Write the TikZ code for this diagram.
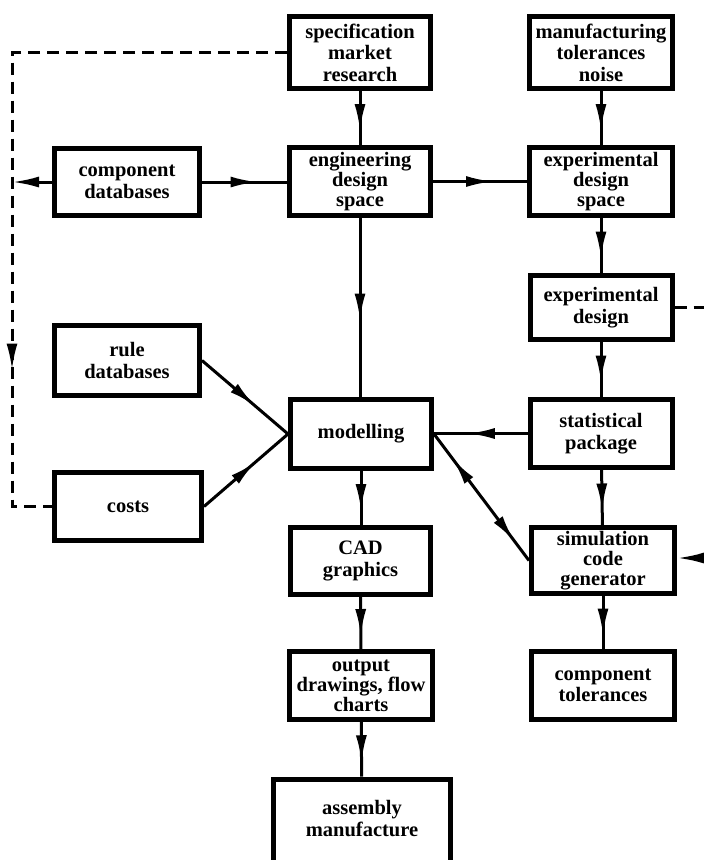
\documentclass[tikz,border=0pt]{standalone}
\usepackage{fontspec}
\setmainfont{Liberation Serif}
\usetikzlibrary{arrows.meta,decorations.markings}
\begin{document}
\begin{tikzpicture}[x=1pt,y=-1pt,
  box/.style={draw, line width=5pt, align=center, inner sep=0pt,
    font=\fontsize{20.5}{21.5}\selectfont\bfseries},
  tight/.style={font=\fontsize{20.5}{20}\selectfont\bfseries},
  conn/.style={line width=3pt},
  dashline/.style={line width=3pt, dash pattern=on 12pt off 7pt},
  midarrow/.style={conn, postaction={decorate}, decoration={markings,
    mark=at position 0.5 with {\pgftransformxshift{13pt}\arrow{Latex[length=27pt,width=11pt]}}}},
  endarrow/.style={conn, -{Latex[length=27pt,width=11pt]}},
]
\useasboundingbox (0,0) rectangle (704,860);
\fill[white] (0,0) rectangle (704,860);
\clip (0,0) rectangle (704,860);

\node[box, minimum width=141pt, minimum height=72pt] (spec) at (360,52.5) {specification\\market\\research};
\node[box, minimum width=143pt, minimum height=72pt] (mfg) at (601,52.5) {manufacturing\\tolerances\\noise};
\node[box, minimum width=145pt, minimum height=67pt] (comp) at (127,182) {component\\databases};
\node[box, tight, minimum width=141pt, minimum height=68pt] (eng) at (360,181.5) {engineering\\design\\space};
\node[box, tight, minimum width=143pt, minimum height=68pt] (expds) at (601,181.5) {experimental\\design\\space};
\node[box, minimum width=142pt, minimum height=64pt] (expd) at (601,307.5) {experimental\\design};
\node[box, minimum width=145pt, minimum height=70pt] (rule) at (127,360.5) {rule\\databases};
\node[box, minimum width=141pt, minimum height=69pt] (model) at (361,434) {modelling};
\node[box, minimum width=142pt, minimum height=68pt] (stat) at (601,433.5) {statistical\\package};
\node[box, minimum width=147pt, minimum height=68pt] (costs) at (128,506.5) {costs};
\node[box, minimum width=140pt, minimum height=67pt] (cad) at (360.5,561) {CAD\\graphics};
\node[box, tight, minimum width=143pt, minimum height=66pt] (sim) at (603,560.5) {simulation\\code\\generator};
\node[box, tight, minimum width=143pt, minimum height=68pt] (out) at (361,685.5) {output\\drawings, flow\\charts};
\node[box, minimum width=143pt, minimum height=68pt] (ctol) at (603,685.5) {component\\tolerances};
\node[box, minimum width=177pt, minimum height=100pt] (asm) at (362,829) {assembly\\manufacture\\\mbox{}};

\coordinate (dtl) at (12,52.5);
\coordinate (dbl) at (12,506.5);
\coordinate (er) at (704,307.5);
\coordinate (sr) at (704,558);

% solid connectors with mid arrows
\draw[midarrow] (spec) -- (eng);
\draw[midarrow] (mfg) -- (expds);
\draw[midarrow] (comp.east) -- (comp.east -| eng.west);
\draw[midarrow] (eng) -- (expds);
\draw[midarrow] (expds) -- (expd);
\draw[midarrow] (eng.south) -- (eng.south |- model.north);
\draw[midarrow] (expd) -- (stat);
\draw[midarrow] (rule.east) -- (model.west);
\draw[midarrow] (costs.east) -- (model.west);
\draw[midarrow] (stat.west) -- (stat.west -| model.east);
\draw[midarrow] (stat) -- (sim);
\draw[midarrow] (model.south) -- (model.south |- cad.north);
\draw[midarrow] (cad) -- (out);
\draw[midarrow] (out) -- (asm);
\draw[midarrow] (sim) -- (ctol);

% double arrow modelling <-> simulation
\draw[conn, postaction={decorate}, decoration={markings,
    mark=at position 31pt with {\arrowreversed{Latex[length=27pt,width=11pt]}},
    mark=at position 134pt with {\arrow{Latex[length=27pt,width=11pt]}}}]
  (model.east) -- (sim.west);

% component databases to dashed line
\draw[endarrow] (comp.west) -- (comp.west -| dtl);

% dashed feedback loop
\draw[dashline, postaction={decorate}, decoration={markings,
    mark=at position 593pt with {\arrow{Latex[length=27pt,width=11pt]}}}]
  (spec.west) -- (dtl) -- (dbl) -- (costs.west);

% right-side dangling connectors
\draw[dashline] (expd.east) -- (er);
\draw[endarrow] (sr) -- (sr -| sim.east);
\end{tikzpicture}
\end{document}
